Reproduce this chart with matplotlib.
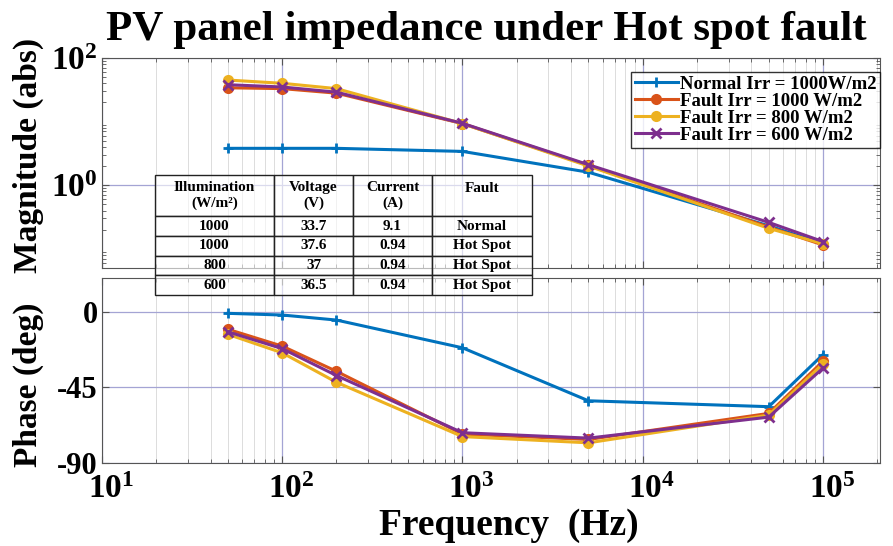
import matplotlib
matplotlib.use("Agg")
import matplotlib.pyplot as plt
import matplotlib.ticker as mticker
import matplotlib.transforms as mtransforms
import numpy as np

plt.rcParams['font.family'] = ['Liberation Serif', 'DejaVu Serif']
plt.rcParams['font.weight'] = 'bold'
plt.rcParams['mathtext.fontset'] = 'custom'
plt.rcParams['mathtext.rm'] = 'Liberation Serif:bold'
plt.rcParams['mathtext.bf'] = 'Liberation Serif:bold'
plt.rcParams['mathtext.it'] = 'Liberation Serif:bold:italic'

# frequency points (Hz)
freq = [50, 100, 200, 1000, 5000, 50000, 100000]

# magnitude (abs)
mag_normal = [3.8, 3.8, 3.8, 3.4, 1.6, 0.23, 0.12]
mag_f1000 = [34, 33, 28, 9.3, 2.05, 0.22, 0.115]
mag_f800 = [45, 40, 33, 9.3, 2.0, 0.21, 0.12]
mag_f600 = [38, 35, 29, 9.4, 2.1, 0.26, 0.13]

# phase (deg)
phase_normal = [-1, -2, -5, -21.5, -53, -56.5, -25.5]
phase_f1000 = [-10.5, -20.5, -35.5, -72.8, -76, -60.5, -29.5]
phase_f800 = [-13.5, -24.5, -42, -74.3, -78, -61.5, -31]
phase_f600 = [-12, -22, -38, -72, -75.2, -62.7, -33.5]

labels = ['Normal Irr = 1000W/m2', 'Fault Irr = 1000 W/m2',
          'Fault Irr = 800 W/m2', 'Fault Irr = 600 W/m2']
colors = ['#0072BD', '#D95319', '#EDB120', '#7E2F8E']
markers = ['+', 'o', 'o', 'x']

# table data
table_header = ['Illumination\n(W/m²)', 'Voltage\n(V)', 'Current\n(A)', 'Fault\n']
table_rows = [['1000', '33.7', '9.1', 'Normal'],
              ['1000', '37.6', '0.94', 'Hot Spot'],
              ['800', '37', '0.94', 'Hot Spot'],
              ['600', '36.5', '0.94', 'Hot Spot']]

fig = plt.figure(figsize=(8.93, 5.46), dpi=100)
ax1 = fig.add_axes([0.1142, 0.5092, 0.8712, 0.3846])
ax2 = fig.add_axes([0.1142, 0.152, 0.8712, 0.3388])

mags = [mag_normal, mag_f1000, mag_f800, mag_f600]
phases = [phase_normal, phase_f1000, phase_f800, phase_f600]
for m, p, c, mk, lab in zip(mags, phases, colors, markers, labels):
    ms = 6 if mk == 'o' else 7
    ax1.plot(freq, m, color=c, marker=mk, ms=ms, lw=2.2, mew=2, label=lab)
    ax2.plot(freq, p, color=c, marker=mk, ms=ms, lw=2.2, mew=2)


def dec_fmt(v, pos):
    return r'$\mathbf{10^{%d}}$' % int(round(np.log10(v)))


for ax in (ax1, ax2):
    ax.set_xscale('log')
    ax.set_xlim(10, 2.07e5)
    ax.xaxis.set_major_locator(mticker.LogLocator(base=10, numticks=10))
    ax.xaxis.set_minor_locator(mticker.LogLocator(base=10, subs=np.arange(2, 10), numticks=20))
    ax.grid(True, which='major', color='#a4a4d4', lw=0.9)
    ax.grid(True, which='minor', axis='x', color='#dcdcdc', lw=0.7)
    ax.tick_params(which='both', direction='in', top=True, right=True, colors='#555555', labelcolor='black')
    ax.tick_params(which='major', length=5, labelsize=24)
    ax.tick_params(which='minor', length=3)
    for s in ax.spines.values():
        s.set_color('#555555')
    ax.set_axisbelow(True)

ax1.set_yscale('log')
ax1.set_ylim(0.05, 100)
ax1.yaxis.set_major_locator(mticker.FixedLocator([1, 100]))
ax1.yaxis.set_major_formatter(mticker.FuncFormatter(dec_fmt))
ax1.yaxis.set_minor_locator(mticker.LogLocator(base=10, subs=np.arange(2, 10), numticks=20))
ax1.yaxis.set_minor_formatter(mticker.NullFormatter())
ax1.xaxis.set_major_formatter(mticker.NullFormatter())
ax1.tick_params(axis='y', which='major', pad=3)

ax2.set_ylim(-90, 20)
ax2.set_yticks([-90, -45, 0])
ax2.set_yticklabels(['-90', '-45', '0'])
ax2.tick_params(axis='y', which='major', labelsize=22, pad=3)
ax2.xaxis.set_major_formatter(mticker.FuncFormatter(dec_fmt))
ax2.tick_params(axis='x', which='major', pad=8)
# x tick labels sit a little right of their ticks in the original
shift = mtransforms.ScaledTranslation(0.09, 0, fig.dpi_scale_trans)
for lbl in ax2.get_xticklabels():
    lbl.set_transform(lbl.get_transform() + shift)

leg = ax1.legend(loc='upper right', bbox_to_anchor=(1.0, 0.935),
                 prop={'weight': 'bold', 'size': 13.5}, frameon=True, fancybox=False,
                 handlelength=2.3, handletextpad=0.1, labelspacing=0.0,
                 borderpad=0.2, borderaxespad=0.0)
leg.get_frame().set_edgecolor('black')
leg.get_frame().set_linewidth(1.0)

fig.text(0.545, 0.945, 'PV panel impedance under Hot spot fault', ha='center', va='center',
         fontsize=31, fontweight='bold')
fig.text(0.032, 0.715, 'Magnitude (abs)', rotation=90, ha='center', va='center',
         fontsize=24, fontweight='bold')
fig.text(0.032, 0.295, 'Phase (deg)', rotation=90, ha='center', va='center',
         fontsize=24, fontweight='bold')
fig.text(0.57, 0.038, 'Frequency  (Hz)', ha='center', va='center',
         fontsize=27, fontweight='bold')

# data table overlay
tax = fig.add_axes([0.1736, 0.4597, 0.4222, 0.2198], zorder=5)
tax.axis('off')
cells = [table_header] + table_rows
tbl = tax.table(cellText=cells, cellLoc='center', bbox=[0, 0, 1, 1],
                colWidths=[119, 79, 79, 100])
tbl.auto_set_font_size(False)
for (r, c), cell in tbl.get_celld().items():
    cell.set_fontsize(11)
    cell.get_text().set_fontweight('bold')
    cell.set_facecolor((1, 1, 1, 0.6))
    cell.set_edgecolor('#222222')
    cell.set_linewidth(1.0)
    cell.set_height(2.1 if r == 0 else 1.0)

fig.savefig('out.png', dpi=100)
